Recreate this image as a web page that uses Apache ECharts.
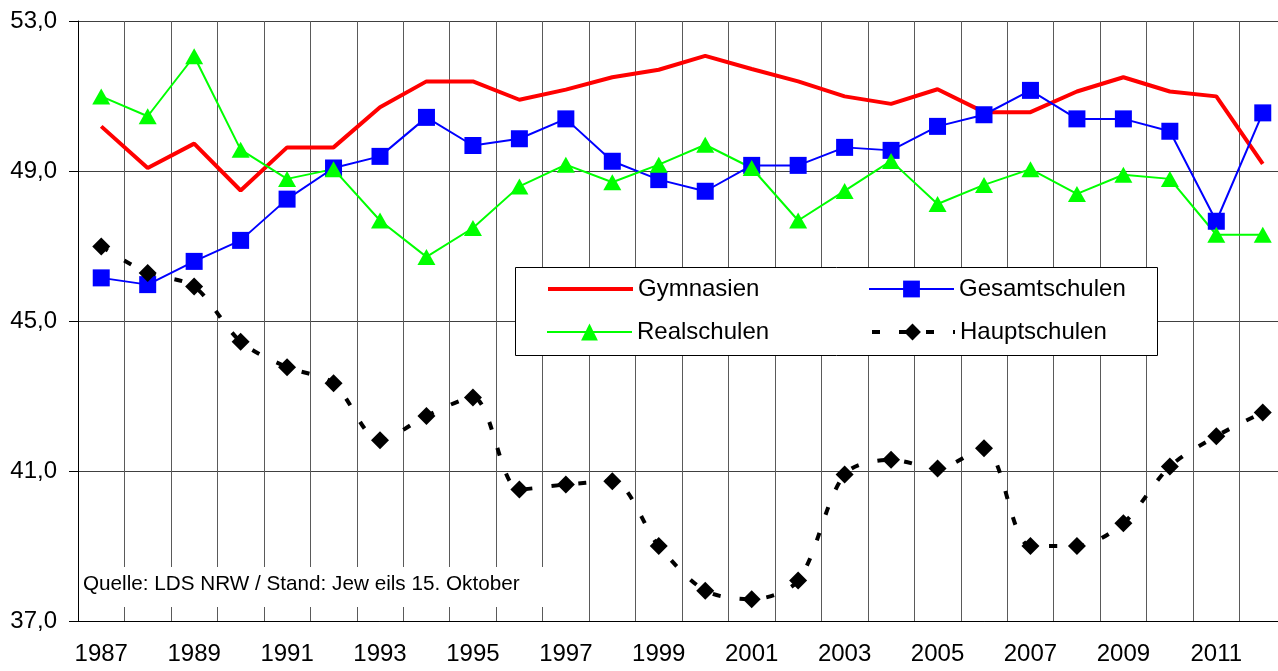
<!DOCTYPE html>
<html>
<head>
<meta charset="utf-8">
<script src="https://cdn.jsdelivr.net/npm/echarts@6/dist/echarts.min.js"></script>
<style>
html,body{margin:0;padding:0;background:#fff;overflow:hidden;width:1278px;height:671px;}
#chart{width:1292px;height:671px;}
</style>
</head>
<body>
<div id="chart"></div>
<script>
const years = ['1987','1988','1989','1990','1991','1992','1993','1994','1995','1996','1997','1998','1999','2000','2001','2002','2003','2004','2005','2006','2007','2008','2009','2010','2011','2012'];
const gymnasien = [50.19,49.08,49.73,48.48,49.63,49.63,50.70,51.39,51.39,50.90,51.17,51.50,51.70,52.07,51.72,51.39,50.99,50.79,51.18,50.57,50.57,51.12,51.50,51.12,50.99,49.19];
const gesamtschulen = [46.15,45.97,46.59,47.15,48.25,49.08,49.39,50.43,49.68,49.86,50.39,49.26,48.77,48.46,49.15,49.15,49.63,49.55,50.19,50.50,51.15,50.39,50.39,50.06,47.66,50.55];
const realschulen = [50.99,50.46,52.06,49.57,48.79,49.05,47.68,46.71,47.48,48.59,49.17,48.70,49.17,49.70,49.08,47.68,48.47,49.27,48.12,48.63,49.05,48.39,48.90,48.79,47.30,47.30];
const hauptschulen = [46.99,46.28,45.92,44.45,43.77,43.34,41.82,42.47,42.96,40.51,40.64,40.73,39.00,37.81,37.58,38.08,40.91,41.30,41.07,41.61,39.00,39.00,39.61,41.12,41.93,42.56];
const seriesNames = ['Gymnasien','Gesamtschulen','Realschulen','Hauptschulen'];
const sourceNote = 'Quelle: LDS NRW / Stand: Jew eils 15. Oktober';

const FONT = '"Liberation Sans", Arial, sans-serif';
const chart = echarts.init(document.getElementById('chart'), null, {renderer:'canvas'});

function legendAt(name, left, top, extra){
  return Object.assign({
    data:[name], left:left, top:top, padding:0, orient:'horizontal',
    itemWidth:85, itemHeight:21, selectedMode:false, z:5,
    textStyle:{fontFamily:FONT, fontSize:24, color:'#000'}
  }, extra || {});
}

chart.setOption({
  animation:false,
  backgroundColor:'#fff',
  grid:{left:78, top:21, width:1208, height:600, containLabel:false},
  xAxis:{
    type:'category', data:years, boundaryGap:true,
    axisLine:{show:true, lineStyle:{color:'#000', width:1}},
    axisTick:{show:false},
    axisLabel:{interval:1, margin:21, fontFamily:FONT, fontSize:24, color:'#000'},
    splitLine:{show:true, interval:0, lineStyle:{color:'#5a5a5a', width:1}}
  },
  yAxis:{
    type:'value', min:37, max:53, interval:4,
    axisLine:{show:true, lineStyle:{color:'#000', width:1}},
    axisTick:{show:true, length:9, lineStyle:{color:'#000'}},
    axisLabel:{margin:21, fontFamily:FONT, fontSize:24, color:'#000',
      formatter:function(v){return v.toFixed(1).replace('.', ',');}},
    splitLine:{show:true, lineStyle:{color:'#404040', width:1}}
  },
  legend:[
    legendAt(seriesNames[0], 546, 277, {itemStyle:{color:'rgba(0,0,0,0)', borderWidth:0, opacity:0},
      lineStyle:{width:4}}),
    legendAt(seriesNames[1], 868, 277),
    legendAt(seriesNames[2], 546, 320),
    legendAt(seriesNames[3], 868, 320, {lineStyle:{width:4, type:[8,19], dashOffset:-2}})
  ],
  graphic:[
    {type:'rect', z:3, shape:{x:515.5, y:267.5, width:642, height:88},
     style:{fill:'#fff', stroke:'#000', lineWidth:1}},
    {type:'rect', z:1, shape:{x:79, y:567, width:466, height:40},
     style:{fill:'#fff'}},
    {type:'text', z:2, left:83, top:574,
     style:{text:sourceNote, font:'20.7px "Liberation Sans", Arial, sans-serif', fill:'#000'}}
  ],
  series:[
    {name:seriesNames[0], type:'line', data:gymnasien, symbol:'none',
     lineStyle:{color:'#ff0000', width:4}, itemStyle:{color:'#ff0000'}},
    {name:seriesNames[1], type:'line', data:gesamtschulen, symbol:'rect', symbolSize:17,
     lineStyle:{color:'#0000ff', width:2}, itemStyle:{color:'#0000ff'}},
    {name:seriesNames[2], type:'line', data:realschulen, symbol:'triangle', symbolSize:[18,16],
     lineStyle:{color:'#00ff00', width:2}, itemStyle:{color:'#00ff00'}},
    {name:seriesNames[3], type:'line', data:hauptschulen, symbol:'diamond', symbolSize:18,
     smooth:0.3,
     lineStyle:{color:'#000', width:4, type:[8,19]}, itemStyle:{color:'#000'}}
  ]
});
</script>
</body>
</html>
